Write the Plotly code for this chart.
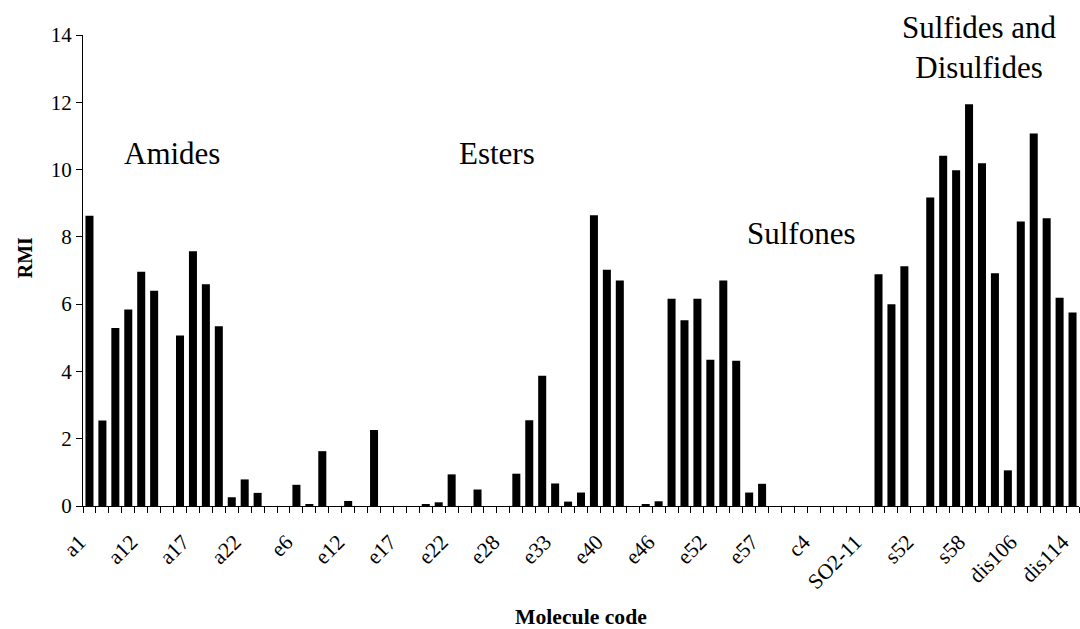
import plotly.graph_objects as go

# RMI value for each molecule (77 molecules, in chart order)
rmi = [
    8.63, 2.54, 5.29, 5.84, 6.96, 6.40, 0.00, 5.07, 7.57, 6.59,
    5.34, 0.26, 0.79, 0.39, 0.00, 0.00, 0.63, 0.06, 1.63, 0.00,
    0.15, 0.00, 2.26, 0.00, 0.00, 0.00, 0.05, 0.11, 0.94, 0.00,
    0.49, 0.00, 0.00, 0.96, 2.55, 3.87, 0.67, 0.13, 0.40, 8.64,
    7.02, 6.70, 0.00, 0.05, 0.14, 6.16, 5.52, 6.16, 4.35, 6.70,
    4.32, 0.40, 0.66, 0.00, 0.00, 0.00, 0.00, 0.00, 0.00, 0.00,
    0.00, 6.89, 6.00, 7.13, 0.00, 9.17, 10.41, 9.98, 11.94, 10.19,
    6.92, 1.06, 8.46, 11.07, 8.55, 6.19, 5.75,
]

# labels shown on the axis (every fourth molecule is labelled)
tick_labels = ["a1", "a12", "a17", "a22", "e6", "e12", "e17", "e22", "e28", "e33",
               "e40", "e46", "e52", "e57", "c4", "SO2-11", "s52", "s58", "dis106", "dis114"]
label_step = 4

# group names and the molecule index / RMI level where they are written
group_names = ["Amides", "Esters", "Sulfones", "Sulfides and<br>Disulfides"]
group_x = [6.35, 31.5, 55.06, 68.8]
group_y = [10.48, 10.48, 8.1, 13.64]

idx = list(range(len(rmi)))
tickvals = idx[::label_step]

FONT = "Liberation Serif"

fig = go.Figure(
    go.Bar(
        x=idx,
        y=rmi,
        width=0.62,
        marker=dict(color="black", line=dict(width=0)),
        hovertemplate="%{x}: %{y}<extra></extra>",
    )
)

fig.update_layout(
    width=1080,
    height=629,
    margin=dict(l=83, r=1, t=35, b=123),
    plot_bgcolor="white",
    paper_bgcolor="white",
    font=dict(family=FONT, color="black", size=21),
    showlegend=False,
)

fig.update_xaxes(
    range=[-0.5, len(rmi) - 0.5],
    tickmode="array",
    tickvals=tickvals,
    ticktext=tick_labels,
    tickangle=-45,
    ticks="",
    ticklabelstandoff=14,
    ticklabelshift=-10,
    ticklabeloverflow="allow",
    tickfont=dict(family=FONT, size=21.5, color="black"),
    showline=True,
    linecolor="black",
    linewidth=1,
    showgrid=False,
    zeroline=False,
    minor=dict(ticks="outside", tick0=-0.5, dtick=1, ticklen=6,
               tickcolor="black", tickwidth=1, showgrid=False),
)

fig.update_yaxes(
    range=[0, 14],
    dtick=2,
    tick0=0,
    ticks="outside",
    ticklen=6,
    tickcolor="black",
    tickfont=dict(family=FONT, size=21, color="black"),
    showline=True,
    linecolor="black",
    linewidth=1,
    showgrid=False,
    zeroline=False,
)

# axis titles
fig.add_annotation(text="<b>Molecule code</b>", xref="paper", yref="paper",
                   x=0.5, y=-0.2357, xanchor="center", yanchor="middle",
                   showarrow=False, font=dict(family=FONT, size=21.7, color="black"))
fig.add_annotation(text="<b>RMI</b>", xref="paper", yref="paper",
                   x=-0.058, y=0.5265, xanchor="center", yanchor="middle",
                   textangle=-90, showarrow=False,
                   font=dict(family=FONT, size=20, color="black"))

# group labels
for name, gx, gy in zip(group_names, group_x, group_y):
    fig.add_annotation(text=name, x=gx, y=gy, xref="x", yref="y",
                       xanchor="center", yanchor="middle", showarrow=False,
                       font=dict(family=FONT, size=31, color="black"))

fig.write_html("out.html")
